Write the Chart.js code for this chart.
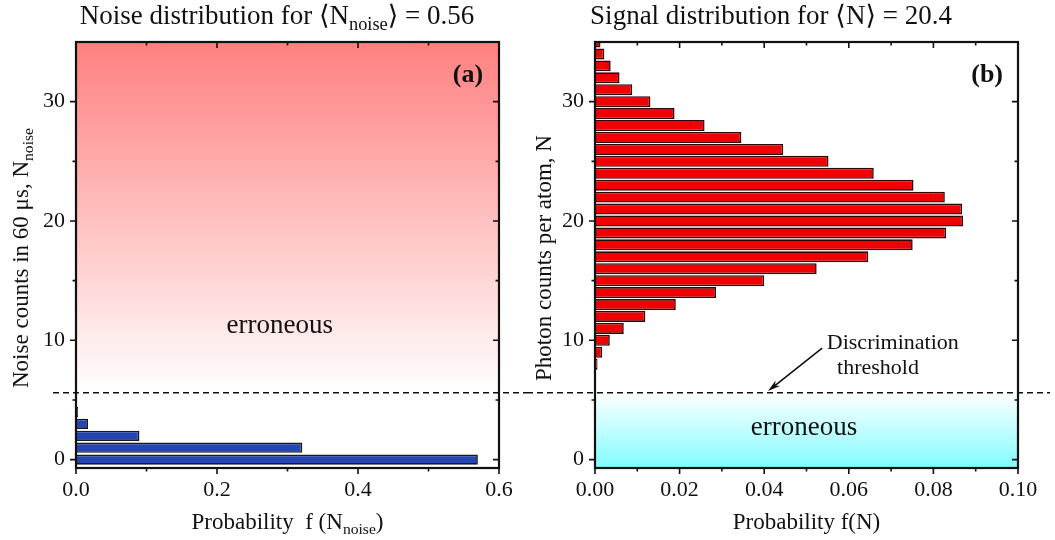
<!DOCTYPE html>
<html>
<head>
<meta charset="utf-8">
<script src="https://cdn.jsdelivr.net/npm/chart.js@4.4.1/dist/chart.umd.min.js"></script>
<style>
  html, body { margin: 0; padding: 0; background: #fff; }
  #wrap { position: relative; width: 1055px; height: 540px; }
  .panel { position: absolute; top: 0; height: 540px; }
  #left { left: 0; width: 527px; }
  #right { left: 527px; width: 528px; }
</style>
</head>
<body>
<div id="wrap">
  <div class="panel" id="left"><canvas id="noiseChart"></canvas></div>
  <div class="panel" id="right"><canvas id="signalChart"></canvas></div>
</div>
<script>
// data
const NOISE_COUNTS = [0, 1, 2, 3, 4];
const NOISE_PROB = [0.570, 0.321, 0.090, 0.017, 0.003];

const SIGNAL_COUNTS = [7, 8, 9, 10, 11, 12, 13, 14, 15, 16, 17, 18, 19, 20, 21,
  22, 23, 24, 25, 26, 27, 28, 29, 30, 31, 32, 33, 34, 35];
const SIGNAL_PROB = [0.0002, 0.0006, 0.0017, 0.0035, 0.0068, 0.0119, 0.0191, 0.0286,
  0.0400, 0.0524, 0.0646, 0.0751, 0.0830, 0.0870, 0.0868, 0.0827, 0.0753, 0.0659,
  0.0552, 0.0445, 0.0346, 0.0259, 0.0188, 0.0131, 0.0088, 0.0058, 0.0037, 0.0022, 0.0013];

const THRESHOLD = 5.6;
const Y_TICKS = [0, 10, 20, 30];
const Y_MINOR = [5, 15, 25];
const NOISE_X_TICKS = [0, 0.2, 0.4, 0.6];
const NOISE_X_MINOR = [0.1, 0.3, 0.5];
const SIGNAL_X_TICKS = [0, 0.02, 0.04, 0.06, 0.08, 0.10];
const SIGNAL_X_MINOR = [0.01, 0.03, 0.05, 0.07, 0.09];

const SERIF = '"Liberation Serif", "DejaVu Serif", serif';
const INK = '#111';

// draws a line of text made of parts, some of them subscripts
function richText(ctx, parts, x, y, size, align, rotate) {
  ctx.save();
  ctx.translate(x, y);
  if (rotate) ctx.rotate(-Math.PI / 2);
  const fontOf = p => (p.bold ? 'bold ' : '') + (p.sub ? size * 0.68 : size) + 'px ' + SERIF;
  let total = 0;
  const widths = parts.map(p => {
    ctx.font = fontOf(p);
    const w = ctx.measureText(p.t).width;
    total += w;
    return w;
  });
  let cx = align === 'center' ? -total / 2 : (align === 'right' ? -total : 0);
  ctx.textAlign = 'left';
  ctx.textBaseline = 'middle';
  ctx.fillStyle = INK;
  parts.forEach((p, i) => {
    ctx.font = fontOf(p);
    ctx.fillText(p.t, cx, p.sub ? size * 0.3 : 0);
    cx += widths[i];
  });
  ctx.restore();
}

function decor(spec) {
  return {
    id: 'decor',
    beforeDatasetsDraw(chart) {
      const { ctx, chartArea: a } = chart;
      const ty = chart.scales.y.getPixelForValue(THRESHOLD);
      const y0 = spec.shade === 'above' ? a.top : ty;
      const y1 = spec.shade === 'above' ? ty : a.bottom;
      const g = ctx.createLinearGradient(0, y0, 0, y1);
      g.addColorStop(0, spec.shadeFrom);
      g.addColorStop(1, spec.shadeTo);
      ctx.save();
      ctx.fillStyle = g;
      ctx.fillRect(a.left, y0, a.right - a.left, y1 - y0);
      ctx.restore();
    },
    afterDraw(chart) {
      const { ctx, chartArea: a } = chart;
      const xs = chart.scales.x, ys = chart.scales.y;
      ctx.save();
      ctx.strokeStyle = INK;

      // ticks: outward on left/bottom, inward on right/top
      ctx.lineWidth = 1.6;
      ctx.beginPath();
      const xt = (v, len) => {
        const px = xs.getPixelForValue(v);
        ctx.moveTo(px, a.bottom); ctx.lineTo(px, a.bottom + len);
        ctx.moveTo(px, a.top); ctx.lineTo(px, a.top + len);
      };
      const yt = (v, len) => {
        const py = ys.getPixelForValue(v);
        ctx.moveTo(a.left, py); ctx.lineTo(a.left - len, py);
        ctx.moveTo(a.right, py); ctx.lineTo(a.right - len, py);
      };
      spec.xTicks.forEach(v => xt(v, 6));
      spec.xMinor.forEach(v => xt(v, 3.5));
      Y_TICKS.forEach(v => yt(v, 6));
      Y_MINOR.forEach(v => yt(v, 3.5));
      ctx.stroke();

      // frame
      ctx.lineWidth = 2.2;
      ctx.strokeRect(a.left, a.top, a.right - a.left, a.bottom - a.top);

      // threshold line running across both panels
      const ty = ys.getPixelForValue(THRESHOLD);
      ctx.lineWidth = 1.6;
      ctx.setLineDash([6, 4]);
      ctx.beginPath();
      ctx.moveTo(spec.dashFrom(a, chart), ty);
      ctx.lineTo(spec.dashTo(a, chart), ty);
      ctx.stroke();
      ctx.setLineDash([]);

      // arrow
      if (spec.arrow) {
        const [x0, y0, x1, y1] = spec.arrow;
        const p0x = xs.getPixelForValue(x0), p0y = ys.getPixelForValue(y0);
        const p1x = xs.getPixelForValue(x1), p1y = ys.getPixelForValue(y1);
        const ang = Math.atan2(p1y - p0y, p1x - p0x);
        ctx.lineWidth = 1.6;
        ctx.beginPath();
        ctx.moveTo(p0x, p0y);
        ctx.lineTo(p1x - 8 * Math.cos(ang), p1y - 8 * Math.sin(ang));
        ctx.stroke();
        ctx.fillStyle = INK;
        ctx.beginPath();
        ctx.moveTo(p1x, p1y);
        ctx.lineTo(p1x - 13 * Math.cos(ang - 0.28), p1y - 13 * Math.sin(ang - 0.28));
        ctx.lineTo(p1x - 9 * Math.cos(ang), p1y - 9 * Math.sin(ang));
        ctx.lineTo(p1x - 13 * Math.cos(ang + 0.28), p1y - 13 * Math.sin(ang + 0.28));
        ctx.closePath();
        ctx.fill();
      }
      ctx.restore();

      // labels placed in data coordinates
      spec.notes.forEach(n => {
        richText(ctx, n.parts, xs.getPixelForValue(n.x), ys.getPixelForValue(n.y), n.size, n.align || 'center');
      });

      // title and axis titles
      richText(ctx, spec.title, spec.titleX, 17, 27, 'center');
      richText(ctx, spec.xTitle, (a.left + a.right) / 2, 523, 23, 'center');
      richText(ctx, spec.yTitle, spec.yTitleX, 258, 23, 'center', true);
    }
  };
}

function scaleOptions(xTicks, digits, yWidth) {
  return {
    x: {
      type: 'linear',
      min: xTicks[0],
      max: xTicks[xTicks.length - 1],
      afterBuildTicks: s => { s.ticks = xTicks.map(v => ({ value: v })); },
      afterFit: s => { s.height = 72; },
      grid: { drawOnChartArea: false, color: 'transparent', tickLength: 6 },
      border: { display: false },
      ticks: {
        autoSkip: false, maxRotation: 0, padding: 3, color: INK,
        font: { family: SERIF, size: 22 },
        callback: v => Number(v).toFixed(digits)
      }
    },
    y: {
      type: 'linear',
      min: -0.7,
      max: 35,
      offset: false,
      afterBuildTicks: s => { s.ticks = Y_TICKS.map(v => ({ value: v })); },
      afterFit: s => { s.width = yWidth; },
      grid: { drawOnChartArea: false, offset: false, color: 'transparent', tickLength: 6 },
      border: { display: false },
      ticks: { padding: 5, color: INK, font: { family: SERIF, size: 22 } }
    }
  };
}

// Noise panel
new Chart(document.getElementById('noiseChart'), {
  type: 'bar',
  data: {
    datasets: [{
      data: NOISE_COUNTS.map((n, i) => ({ x: NOISE_PROB[i], y: n })),
      backgroundColor: '#2446b4',
      borderColor: '#18181f',
      borderWidth: 1.7,
      barPercentage: 0.86,
      categoryPercentage: 1,
      clip: 0
    }]
  },
  options: {
    indexAxis: 'y',
    responsive: true,
    maintainAspectRatio: false,
    animation: false,
    layout: { padding: { top: 42, right: 28, left: 0, bottom: 0 } },
    scales: scaleOptions(NOISE_X_TICKS, 1, 76),
    plugins: { legend: { display: false }, tooltip: { enabled: false } }
  },
  plugins: [decor({
    shade: 'above', shadeFrom: 'rgb(255,128,128)', shadeTo: 'rgb(255,255,255)',
    xTicks: NOISE_X_TICKS, xMinor: NOISE_X_MINOR,
    dashFrom: a => a.left - 23, dashTo: (a, c) => c.width,
    notes: [
      { parts: [{ t: '(a)', bold: true }], x: 0.556, y: 32.2, size: 26 },
      { parts: [{ t: 'erroneous' }], x: 0.289, y: 11.2, size: 27 }
    ],
    title: [{ t: 'Noise distribution for \u27e8N' }, { t: 'noise', sub: true }, { t: '\u27e9 = 0.56' }],
    titleX: 277,
    xTitle: [{ t: 'Probability  f (N' }, { t: 'noise', sub: true }, { t: ')' }],
    yTitle: [{ t: 'Noise counts in 60 \u03bcs, N' }, { t: 'noise', sub: true }],
    yTitleX: 22
  })]
});

// Signal panel
new Chart(document.getElementById('signalChart'), {
  type: 'bar',
  data: {
    datasets: [{
      data: SIGNAL_COUNTS.map((n, i) => ({ x: SIGNAL_PROB[i], y: n })),
      backgroundColor: 'rgb(240,0,0)',
      borderColor: '#2e0606',
      borderWidth: 1.6,
      barPercentage: 0.92,
      categoryPercentage: 1,
      clip: 0
    }]
  },
  options: {
    indexAxis: 'y',
    responsive: true,
    maintainAspectRatio: false,
    animation: false,
    layout: { padding: { top: 42, right: 37, left: 0, bottom: 0 } },
    scales: scaleOptions(SIGNAL_X_TICKS, 2, 68),
    plugins: { legend: { display: false }, tooltip: { enabled: false } }
  },
  plugins: [decor({
    shade: 'below', shadeFrom: 'rgb(255,255,255)', shadeTo: 'rgb(128,252,255)',
    xTicks: SIGNAL_X_TICKS, xMinor: SIGNAL_X_MINOR,
    dashFrom: () => 0, dashTo: a => a.right + 32,
    arrow: [0.0537, 9.35, 0.0409, 5.75],
    notes: [
      { parts: [{ t: '(b)', bold: true }], x: 0.0927, y: 32.2, size: 26 },
      { parts: [{ t: 'erroneous' }], x: 0.0494, y: 2.65, size: 27 },
      { parts: [{ t: 'Discrimination' }], x: 0.0548, y: 9.77, size: 22, align: 'left' },
      { parts: [{ t: 'threshold' }], x: 0.0669, y: 7.68, size: 22 }
    ],
    title: [{ t: 'Signal distribution for \u27e8N\u27e9 = 20.4' }],
    titleX: 244,
    xTitle: [{ t: 'Probability f(N)' }],
    yTitle: [{ t: 'Photon counts per atom, N' }],
    yTitleX: 18
  })]
});
</script>
</body>
</html>
